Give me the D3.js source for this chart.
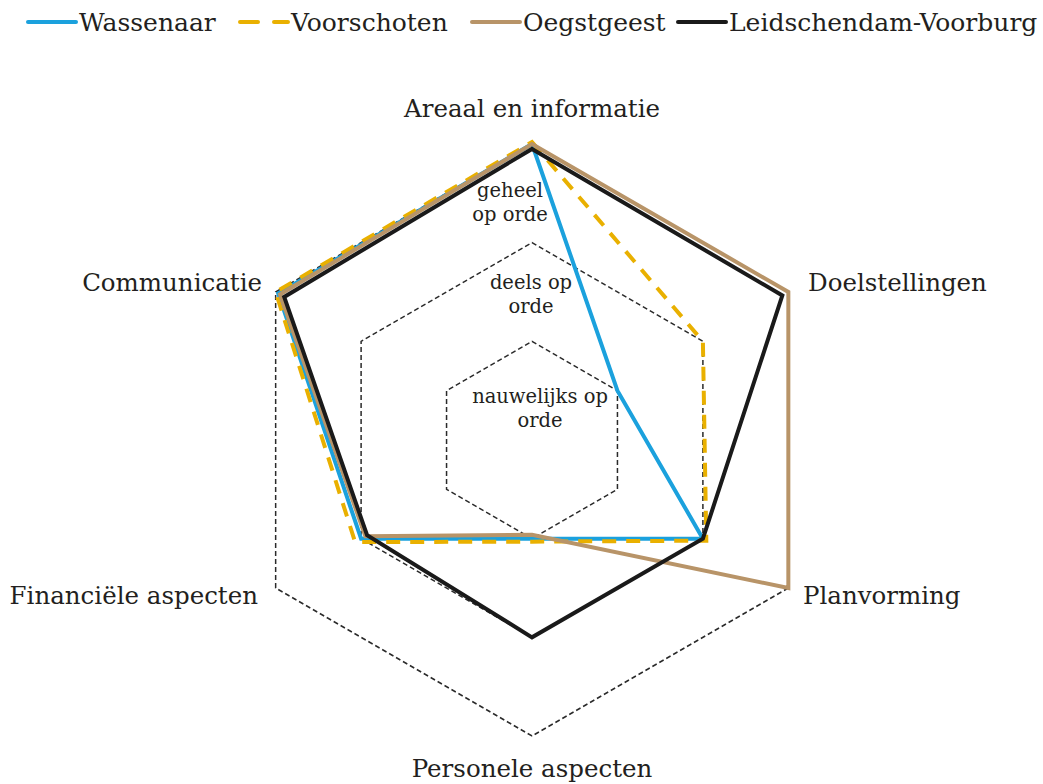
<!DOCTYPE html>
<html>
<head>
<meta charset="utf-8">
<script src="https://cdn.jsdelivr.net/npm/d3@7"></script>
<style>
  body { margin: 0; background: #fff; }
  text { font-family: "DejaVu Serif", serif; fill: #231f20; }
</style>
</head>
<body>
<div id="chart"></div>
<script>
var axes = ["Areaal en informatie", "Doelstellingen", "Planvorming",
  "Personele aspecten", "Financiële aspecten", "Communicatie"];

var wassenaar = [3.0, 1.0, 2.0, 1.0, 2.0, 2.97];
var voorschoten = [3.02, 2.0, 2.04, 1.03, 2.07, 3.0];
var oegstgeest = [3.0, 3.0, 3.0, 0.96, 1.95, 2.95];
var leidschendam = [2.95, 2.93, 2.0, 2.0, 1.93, 2.9];

var levels = [1, 2, 3];
var levelLabels = [["nauwelijks op", "orde"], ["deels op", "orde"], ["geheel", "op orde"]];

var series = [
  { name: "Wassenaar", values: wassenaar, color: "#1ba1dd", dash: null },
  { name: "Voorschoten", values: voorschoten, color: "#e9b000", dash: "14,10" },
  { name: "Oegstgeest", values: oegstgeest, color: "#b89468", dash: null },
  { name: "Leidschendam-Voorburg", values: leidschendam, color: "#1a1a1a", dash: null }
];

var width = 1043, height = 784;
var cx = 532, cy = 440, R = 296;

var svg = d3.select("#chart").append("svg")
  .attr("width", width)
  .attr("height", height);

var r = d3.scaleLinear().domain([0, 3]).range([0, R]);
var angle = d3.scaleLinear().domain([0, axes.length]).range([0, 2 * Math.PI]);

function px(i, v) { return cx + r(v) * Math.sin(angle(i)); }
function py(i, v) { return cy - r(v) * Math.cos(angle(i)); }

var g = svg.append("g");

// grid hexagons
var hexLine = d3.line().curve(d3.curveLinearClosed);
g.selectAll(".grid")
  .data(levels)
  .enter()
  .append("path")
  .attr("class", "grid")
  .attr("d", function (lv) {
    return hexLine(axes.map(function (a, i) { return [px(i, lv), py(i, lv)]; }));
  })
  .attr("fill", "none")
  .attr("stroke", "#2a2a2a")
  .attr("stroke-width", 1.5)
  .attr("stroke-dasharray", "5,3");

// level labels
var levelPos = [[540, 403], [531, 289], [510, 197]];
levelLabels.forEach(function (lines, k) {
  var t = g.append("text")
    .attr("text-anchor", "middle")
    .attr("font-size", 19.5)
    .attr("x", levelPos[k][0])
    .attr("y", levelPos[k][1]);
  lines.forEach(function (l, j) {
    t.append("tspan")
      .attr("x", levelPos[k][0])
      .attr("dy", j === 0 ? 0 : 23.5)
      .text(l);
  });
});

// series
var line = d3.line().curve(d3.curveLinearClosed);
g.selectAll(".series")
  .data(series)
  .enter()
  .append("path")
  .attr("class", "series")
  .attr("d", function (s) {
    return line(s.values.map(function (v, i) { return [px(i, v), py(i, v)]; }));
  })
  .attr("fill", "none")
  .attr("stroke", function (s) { return s.color; })
  .attr("stroke-width", 4)
  .attr("stroke-linejoin", "miter")
  .attr("stroke-dasharray", function (s) { return s.dash; });

// axis labels
var labelPos = [
  { x: 532, y: 117, anchor: "middle" },
  { x: 808, y: 291, anchor: "start" },
  { x: 803, y: 604, anchor: "start" },
  { x: 532, y: 777, anchor: "middle" },
  { x: 258, y: 604, anchor: "end" },
  { x: 262, y: 291, anchor: "end" }
];
g.selectAll(".axisLabel")
  .data(axes)
  .enter()
  .append("text")
  .attr("class", "axisLabel")
  .attr("x", function (d, i) { return labelPos[i].x; })
  .attr("y", function (d, i) { return labelPos[i].y; })
  .attr("text-anchor", function (d, i) { return labelPos[i].anchor; })
  .attr("font-size", 24.5)
  .text(function (d) { return d; });

// legend
var legendX = [28, 240, 472, 678];
var legend = svg.selectAll(".legend")
  .data(series)
  .enter()
  .append("g")
  .attr("class", "legend")
  .attr("transform", function (d, i) { return "translate(" + legendX[i] + ",22)"; });

legend.append("line")
  .attr("x1", 0).attr("x2", 48)
  .attr("y1", 0).attr("y2", 0)
  .attr("stroke", function (d) { return d.color; })
  .attr("stroke-width", 4)
  .attr("stroke-linecap", "round")
  .attr("stroke-dasharray", function (d) { return d.dash ? "18,16" : null; });

legend.append("text")
  .attr("x", 51)
  .attr("y", 9)
  .attr("font-size", 25)
  .text(function (d) { return d.name; });
</script>
</body>
</html>
